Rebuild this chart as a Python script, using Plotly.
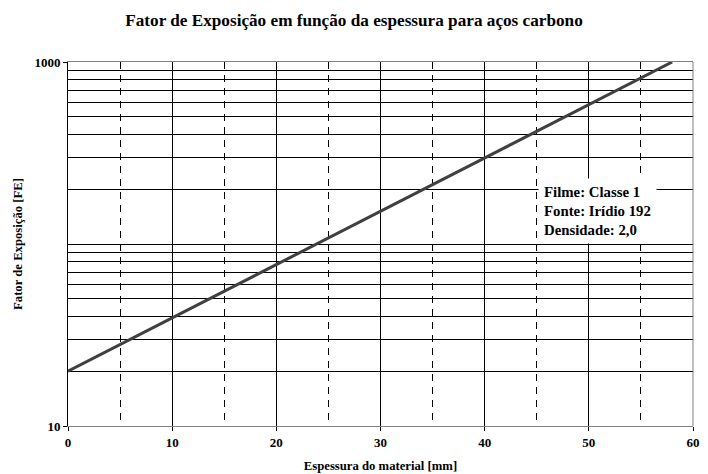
import plotly.graph_objects as go

# Data
thickness_mm = [0, 58]
exposure_factor = [20, 1000]

x_major_ticks = [0, 10, 20, 30, 40, 50, 60]
x_minor_ticks = [5, 15, 25, 35, 45, 55]
y_major_ticks = [10, 1000]
y_major_labels = ["10", "1000"]
y_minor_ticks = [20, 30, 40, 50, 60, 70, 80, 90, 100,
                 200, 300, 400, 500, 600, 700, 800, 900]

note_lines = ["Filme: Classe 1", "Fonte: Irídio 192", "Densidade: 2,0"]

FONT = "Liberation Serif"

fig = go.Figure()
fig.add_trace(go.Scatter(
    x=thickness_mm, y=exposure_factor, mode="lines",
    line=dict(color="#404040", width=3), showlegend=False, hoverinfo="skip"))

fig.update_layout(
    width=708, height=474,
    margin=dict(l=68, r=15, t=62, b=48, autoexpand=False),
    paper_bgcolor="white", plot_bgcolor="white",
    font=dict(family=FONT, color="black", size=12.5, weight="bold"),
    title=dict(
        text="Fator de Exposição em função da espessura para aços carbono",
        font=dict(family=FONT, size=17.2, color="black", weight="bold"),
        xref="container", x=0.5, xanchor="center",
        yref="container", y=1 - 20 / 474, yanchor="middle"),
)

fig.update_xaxes(
    range=[0, 60], automargin=False,
    tickmode="array", tickvals=x_major_ticks,
    ticks="outside", ticklen=4, tickcolor="black",
    showgrid=True, gridcolor="black", gridwidth=1,
    minor=dict(tickmode="array", tickvals=x_minor_ticks, showgrid=True,
               gridcolor="black", gridwidth=1, griddash="7px,6px", ticks=""),
    showline=True, linecolor="#808080", linewidth=1, mirror=True,
    zeroline=False,
    tickfont=dict(family=FONT, size=13, color="black", weight="bold"),
    title=dict(text="Espessura do material [mm]", standoff=12,
               font=dict(family=FONT, size=12.7, color="black", weight="bold")),
)

fig.update_yaxes(
    type="log", range=[1, 3], automargin=False,
    tickmode="array", tickvals=y_major_ticks, ticktext=y_major_labels,
    ticks="outside", ticklen=4, tickcolor="black",
    showgrid=True, gridcolor="black", gridwidth=1,
    minor=dict(tickmode="array", tickvals=y_minor_ticks, showgrid=True,
               gridcolor="black", gridwidth=1, ticks=""),
    showline=True, linecolor="black", linewidth=1,
    zeroline=False,
    tickfont=dict(family=FONT, size=13, color="black", weight="bold"),
    title=dict(text="Fator de Exposição [FE]", standoff=8,
               font=dict(family=FONT, size=12.7, color="black", weight="bold")),
)

# right border of the plot area
fig.add_shape(type="line", xref="paper", yref="paper", x0=1, x1=1, y0=0, y1=1,
              line=dict(color="#808080", width=1), layer="above")

fig.add_annotation(
    xref="x", yref="paper", x=45.1, y=0.592, xanchor="left", yanchor="middle",
    text="<br>".join(note_lines), align="left", showarrow=False,
    bgcolor="white", borderpad=5,
    font=dict(family=FONT, size=14.8, color="black", weight="bold"))

fig.write_html("out.html", config={"displayModeBar": False},
               post_script="document.body.style.margin='0';document.body.style.overflow='hidden';")
